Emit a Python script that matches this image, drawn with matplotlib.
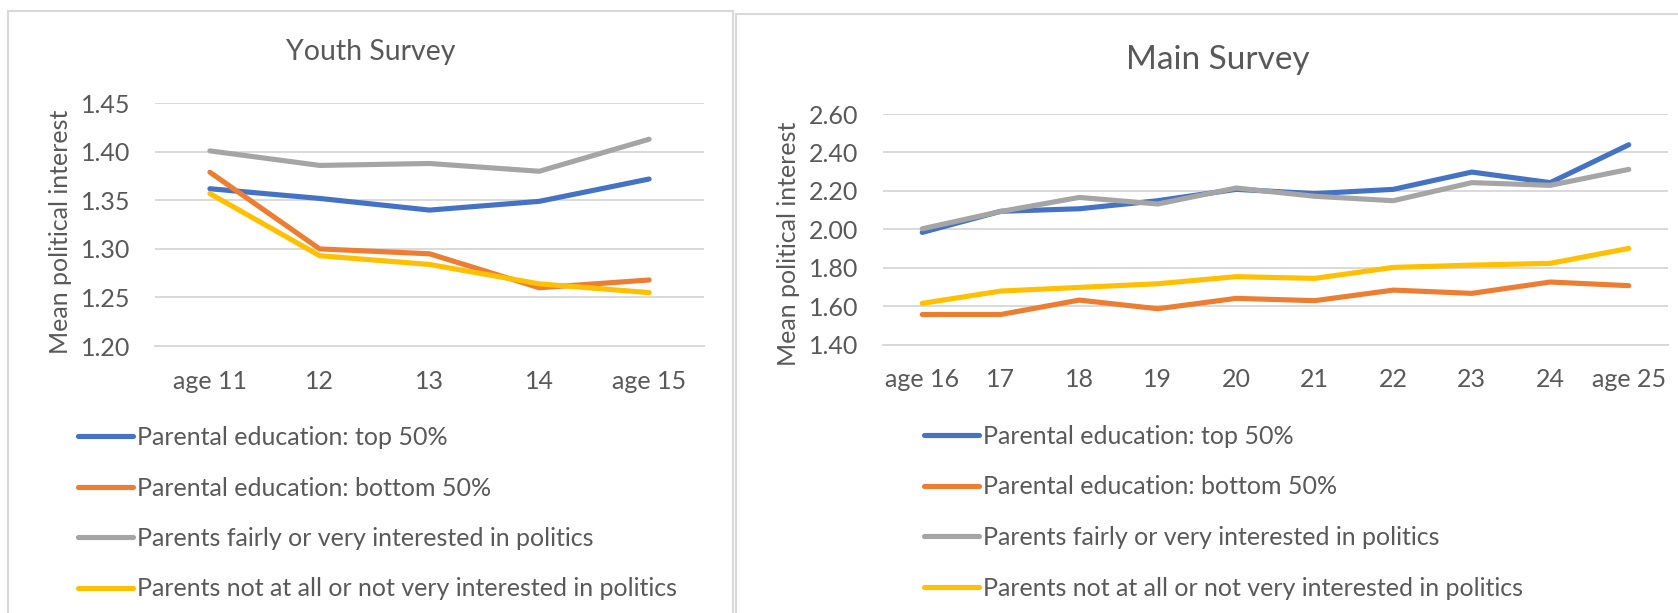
import matplotlib
matplotlib.use("Agg")
import matplotlib.pyplot as plt
from matplotlib.lines import Line2D
from matplotlib.patches import Rectangle

plt.rcParams['font.family'] = ['Lato', 'DejaVu Sans']

TEXT = '#595959'
GRID = '#d9d9d9'

series_names = [
    'Parental education: top 50%',
    'Parental education: bottom 50%',
    'Parents fairly or very interested in politics',
    'Parents not at all or not very interested in politics',
]
series_colors = ['#4472C4', '#ED7D31', '#A5A5A5', '#FFC000']

# Youth survey (ages 11-15)
youth_ages = ['age 11', '12', '13', '14', 'age 15']
youth_top50 = [1.362, 1.352, 1.340, 1.349, 1.372]
youth_bottom50 = [1.379, 1.300, 1.295, 1.260, 1.268]
youth_interested = [1.401, 1.386, 1.388, 1.380, 1.413]
youth_not_interested = [1.357, 1.293, 1.284, 1.264, 1.255]
youth_yticks = [1.20, 1.25, 1.30, 1.35, 1.40, 1.45]

# Main survey (ages 16-25)
main_ages = ['age 16', '17', '18', '19', '20', '21', '22', '23', '24', 'age 25']
main_top50 = [1.984, 2.094, 2.107, 2.149, 2.208, 2.186, 2.208, 2.298, 2.243, 2.440]
main_bottom50 = [1.557, 1.557, 1.632, 1.587, 1.641, 1.629, 1.684, 1.667, 1.726, 1.707]
main_interested = [2.003, 2.093, 2.166, 2.132, 2.215, 2.172, 2.149, 2.243, 2.229, 2.312]
main_not_interested = [1.615, 1.679, 1.698, 1.717, 1.754, 1.745, 1.802, 1.814, 1.823, 1.901]
main_yticks = [1.40, 1.60, 1.80, 2.00, 2.20, 2.40, 2.60]

W, H = 1678, 613
LABEL_SIZE = 18
fig = plt.figure(figsize=(W / 100, H / 100), dpi=100)


def px_rect(x0, y0, x1, y1):
    # pixel box (top-left origin) -> figure fraction [left, bottom, width, height]
    return [x0 / W, 1 - y1 / H, (x1 - x0) / W, (y1 - y0) / H]


def draw_panel(box, ages, data, yticks, title, title_xy, title_size, ylabel_xy, legend_xy):
    ax = fig.add_axes(px_rect(*box))
    x = list(range(len(ages)))
    for vals, name, col in zip(data, series_names, series_colors):
        ax.plot(x, vals, color=col, lw=3.7, solid_capstyle='round',
                solid_joinstyle='round', label=name, zorder=3)
    ax.set_xlim(-0.5, len(ages) - 0.5)
    ax.set_ylim(yticks[0], yticks[-1])
    ax.set_yticks(yticks)
    ax.set_yticklabels([f'{v:.2f}' for v in yticks])
    ax.set_xticks(x)
    ax.set_xticklabels(ages)
    ax.grid(axis='y', color=GRID, lw=1.4, zorder=0)
    ax.set_axisbelow(True)
    for s in ax.spines.values():
        s.set_visible(False)
    ax.tick_params(length=0, labelsize=LABEL_SIZE, colors=TEXT)
    ax.tick_params(axis='y', pad=18)
    ax.tick_params(axis='x', pad=17)
    ax.axhline(yticks[0], color=GRID, lw=1.4, zorder=1, clip_on=False)

    fig.text(title_xy[0] / W, 1 - title_xy[1] / H, title, ha='center', va='center',
             fontsize=title_size, color=TEXT)
    fig.text(ylabel_xy[0] / W, 1 - ylabel_xy[1] / H, 'Mean political interest',
             rotation=90, ha='center', va='center', fontsize=LABEL_SIZE, color=TEXT)

    handles = [Line2D([], [], color=c, lw=3.7, solid_capstyle='round') for c in series_colors]
    fig.legend(handles, series_names, loc='upper left',
               bbox_to_anchor=(legend_xy[0] / W, 1 - legend_xy[1] / H),
               frameon=False, fontsize=LABEL_SIZE, labelcolor=TEXT, borderpad=0,
               handlelength=2.2, handletextpad=0.16, labelspacing=1.1,
               borderaxespad=0)
    return ax


# panel frames
fig.add_artist(Rectangle((8 / W, -0.1), (733 - 8) / W, 1.1 - 11 / H,
                         transform=fig.transFigure, fill=False, ec=GRID, lw=1.5))
fig.add_artist(Rectangle((736 / W, -0.1), 1.0, 1.1 - 14 / H,
                         transform=fig.transFigure, fill=False, ec=GRID, lw=1.5))

draw_panel((155, 103.3, 704, 346),
           youth_ages,
           [youth_top50, youth_bottom50, youth_interested, youth_not_interested],
           youth_yticks, 'Youth Survey', (371, 52), 20.5, (60, 232), (78, 426))

draw_panel((883, 114, 1668, 344.7),
           main_ages,
           [main_top50, main_bottom50, main_interested, main_not_interested],
           main_yticks, 'Main Survey', (1218, 60), 24, (788, 244), (924, 425))

fig.savefig('out.png', dpi=100, facecolor='white')
